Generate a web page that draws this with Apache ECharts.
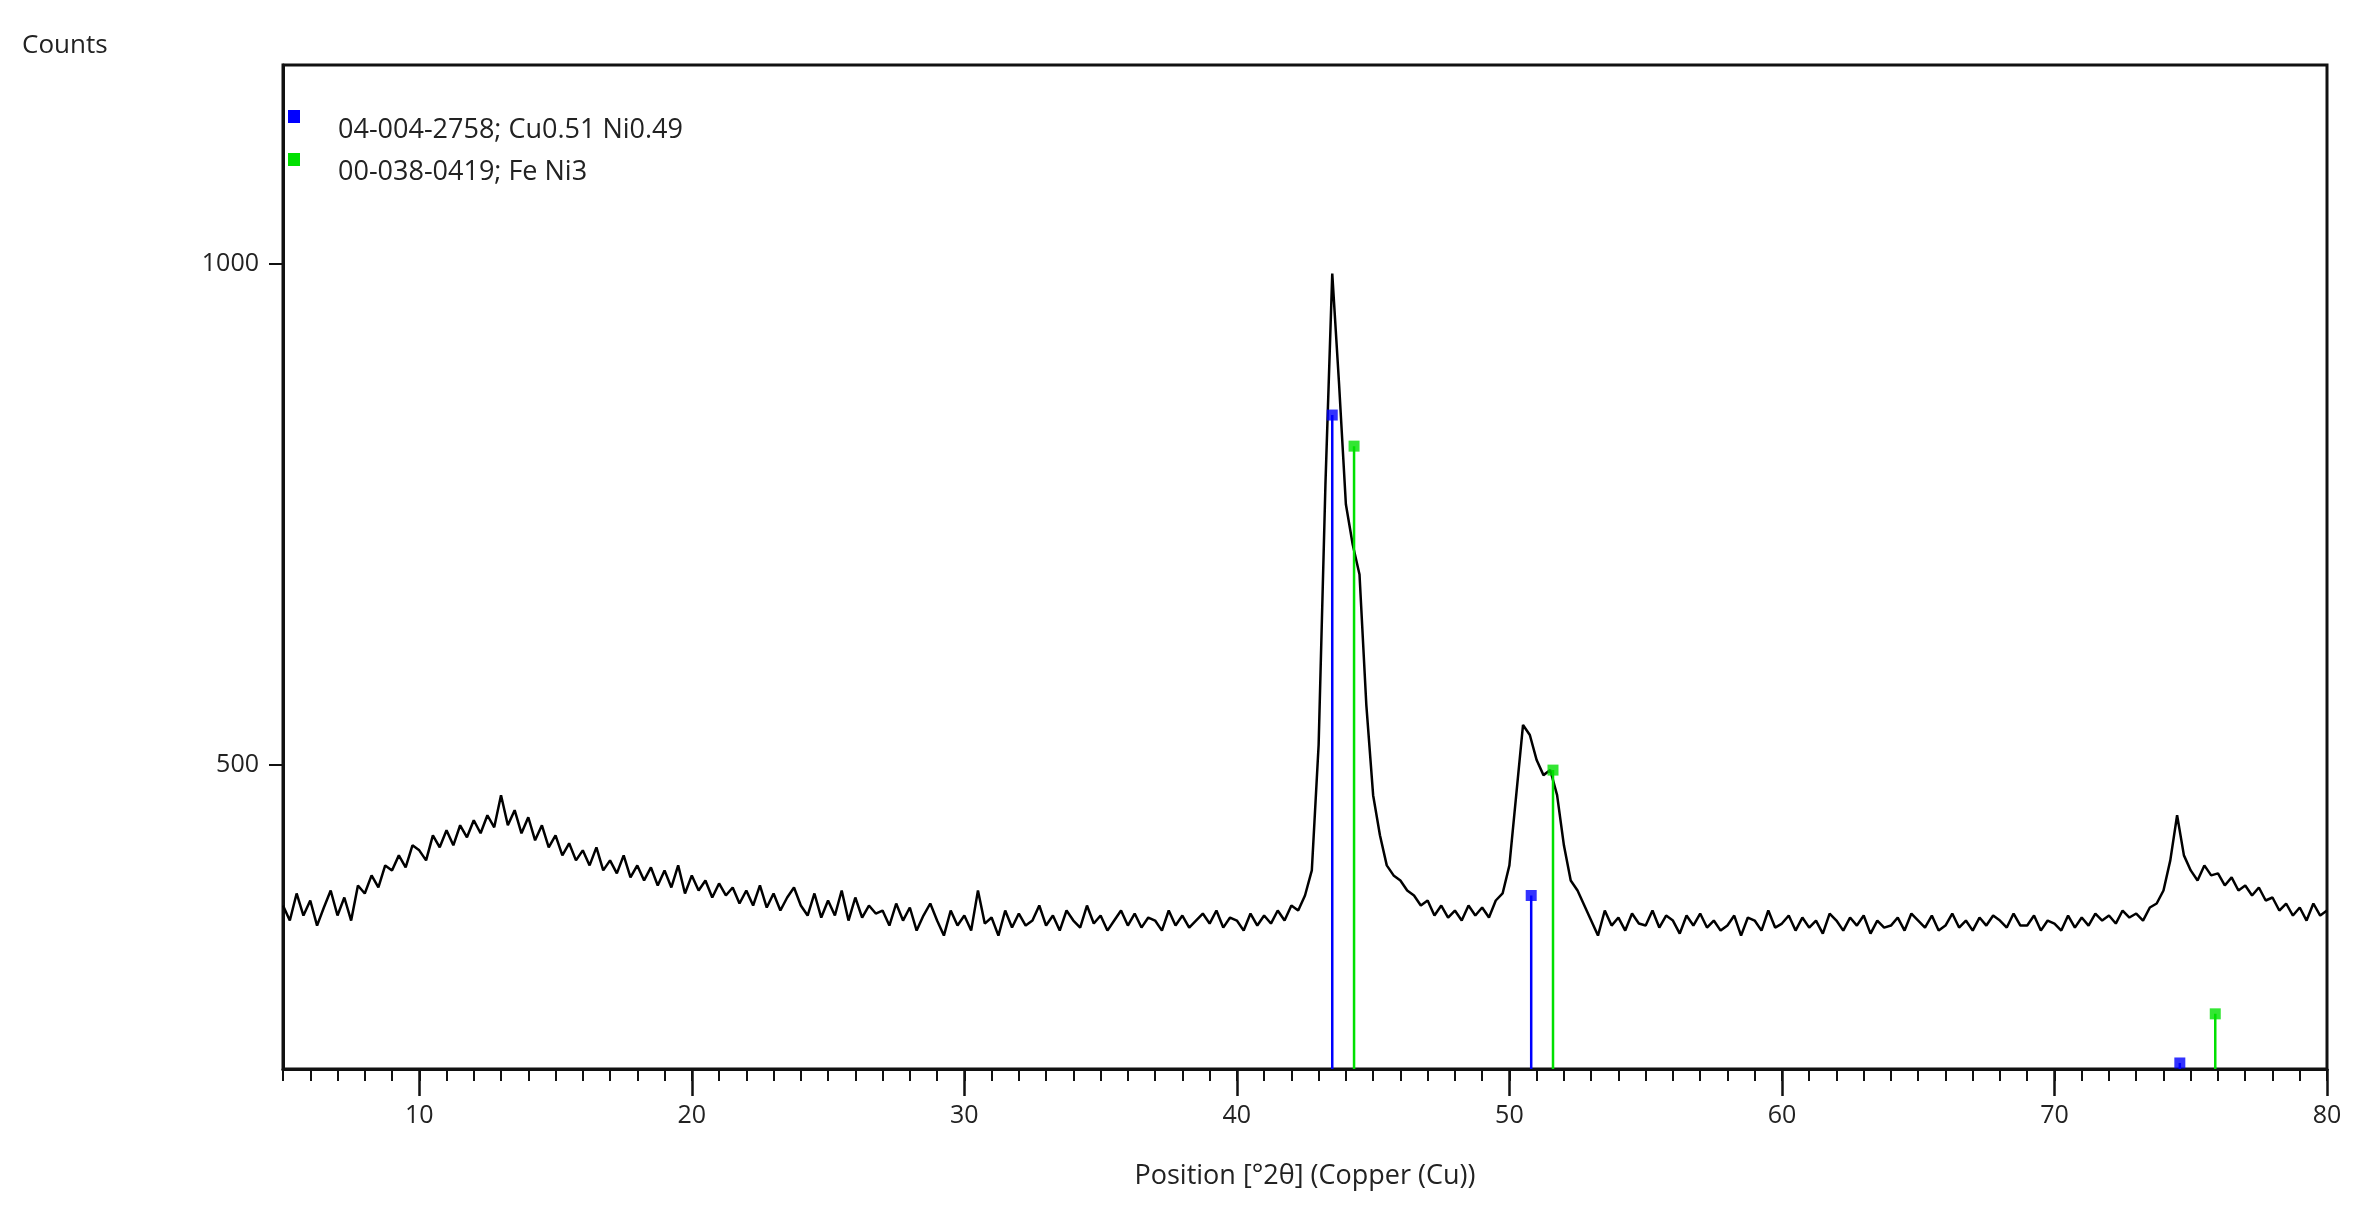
<!DOCTYPE html>
<html><head><meta charset="utf-8">
<script src="https://cdn.jsdelivr.net/npm/echarts@6/dist/echarts.min.js"></script>
<style>html,body{margin:0;padding:0;background:#fff}#c{width:2362px;height:1213px}</style>
</head><body><div id="c"></div>
<script>
const xStart = 5, xStep = 0.25;
const counts = [
360,345,372,350, 365,340,358,375, 350,368,345,380, 372,390,378,400, 395,410,398,420,
415,405,430,418, 435,420,440,428, 445,432,450,438, 470,440,455,432, 448,425,440,418,
430,410,422,405, 415,400,418,395, 405,392,410,388, 400,385,398,380, 395,378,400,372,
390,375,385,368, 382,370,378,362, 375,360,380,358, 372,355,368,378, 360,350,372,348,
365,350,375,345, 368,348,360,352, 355,340,362,345, 358,335,350,362, 345,330,355,340,
350,335,375,342, 348,330,355,338, 352,340,345,360, 340,350,335,355, 345,338,360,342,
350,335,345,355, 340,352,338,348, 345,335,355,340, 350,338,345,352, 342,355,338,348,
345,335,352,340, 350,342,355,345, 360,355,370,395, 520,780,990,880, 760,720,690,560,
470,430,400,390, 385,375,370,360, 365,350,360,348, 355,345,360,350, 358,348,365,372,
400,470,540,530, 505,490,495,470, 420,385,375,360, 345,330,355,340, 348,335,352,342,
340,355,338,350, 345,332,350,340, 352,338,345,335, 340,350,330,348, 345,335,355,338,
342,350,335,348, 338,345,332,352, 345,335,348,340, 350,332,345,338, 340,348,335,352,
345,338,350,335, 340,352,338,345, 335,348,340,350, 345,338,352,340, 340,350,335,345,
342,335,350,338, 348,340,352,345, 350,342,355,348, 352,345,358,362, 375,405,450,410,
395,385,400,390, 392,380,388,375, 380,370,378,365, 368,355,362,350, 358,345,362,350,
355];
const refNames = ['04-004-2758; Cu0.51 Ni0.49', '00-038-0419; Fe Ni3'];
const refColors = ['#0000ff', '#00e000'];
const ref1Pos = [43.5, 50.8, 74.6];
const ref1Int = [849, 370, 203];
const ref2Pos = [44.3, 51.6, 75.9];
const ref2Int = [818, 495, 252];
const xMajorTicks = [10,20,30,40,50,60,70,80];
const yTicks = [500, 1000];
const yMin = 197, yMax = 1198;

const profile = counts.map((v,i)=>[xStart + i*xStep, v]);
const series = [{type:'line', data:profile, xAxisIndex:0, symbol:'none', lineStyle:{color:'#000', width:2.5}, z:3}];
[[ref1Pos,ref1Int],[ref2Pos,ref2Int]].forEach(([pos,inten],k)=>{
  pos.forEach((p,i)=>{
    series.push({type:'line', data:[[p,yMin],[p,inten[i]]], symbol:'none', lineStyle:{color:refColors[k], width:2.5}, z:4, silent:true});
  });
  series.push({type:'scatter', data:pos.map((p,i)=>[p,inten[i]]), symbol:'rect', symbolSize:11, itemStyle:{color:refColors[k]}, z:5});
});
const font = '"Open Sans", "Noto Sans", sans-serif';
const chart = echarts.init(document.getElementById('c'));
chart.setOption({
  animation:false,
  grid:{left:283, right:35, top:65, bottom:144, show:true, borderColor:'#111', borderWidth:3},
  xAxis:[{
    type:'value', min:5, max:80, interval:1,
    axisLine:{show:true, onZero:false, lineStyle:{color:'#111', width:3}},
    axisTick:{show:true, length:12, lineStyle:{color:'#111', width:2}},
    axisLabel:{show:false}, splitLine:{show:false},
    name:'Position [°2θ] (Copper (Cu))', nameLocation:'middle', nameGap:94,
    nameTextStyle:{fontFamily:font, fontSize:27, color:'#222'}
  },{
    type:'value', min:5, max:80, position:'bottom',
    axisLine:{show:false},
    axisTick:{show:true, length:27, customValues:xMajorTicks, lineStyle:{color:'#111', width:2.5}},
    axisLabel:{show:true, customValues:xMajorTicks, margin:34, fontFamily:font, fontSize:25, color:'#222'},
    splitLine:{show:false}
  }],
  yAxis:{
    type:'value', min:yMin, max:yMax,
    axisLine:{show:true, lineStyle:{color:'#111', width:3}},
    axisTick:{show:true, length:14, customValues:yTicks, lineStyle:{color:'#111', width:2}},
    axisLabel:{customValues:yTicks, formatter:v=>String(v), margin:24, fontFamily:font, fontSize:25, color:'#222'},
    splitLine:{show:false}
  },
  graphic:[
    {type:'text', left:22, top:33, style:{text:'Counts', font:'26px '+font, fill:'#222'}},
    {type:'rect', left:288, top:110, shape:{width:12, height:13}, style:{fill:refColors[0]}},
    {type:'rect', left:288, top:153, shape:{width:12, height:13}, style:{fill:refColors[1]}},
    {type:'text', left:338, top:117, style:{text:refNames[0], font:'27px '+font, fill:'#222'}},
    {type:'text', left:338, top:159, style:{text:refNames[1], font:'27px '+font, fill:'#222'}}
  ],
  series
});
</script></body></html>
